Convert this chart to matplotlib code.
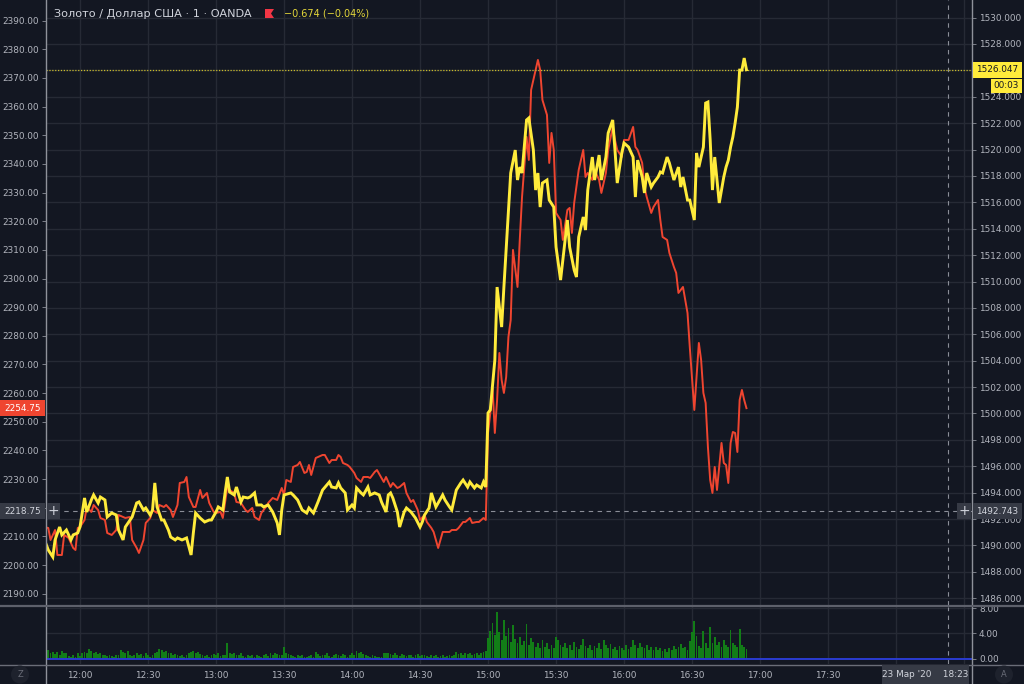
import matplotlib
matplotlib.use('Agg')
import matplotlib.pyplot as plt
from matplotlib.lines import Line2D
from matplotlib.patches import Rectangle, Circle, Polygon
from matplotlib.ticker import FormatStrFormatter, FuncFormatter

# --- data: minutes after 11:44, one-minute chart ---
t0 = 11 * 60 + 44

# yellow line, right scale
gold_t = [0, 2, 4, 5, 7, 8, 10, 12, 13, 15, 16, 18, 19, 21, 22, 24, 25, 27, 28, 30, 32, 33, 35, 36,
          39, 41, 42, 44, 45, 47, 48, 49, 50, 52, 53, 55, 56, 58, 59, 61, 63, 65, 66, 67, 69, 71, 73,
          74, 76, 77, 79, 80, 81, 82, 84, 85, 87, 88, 90, 91, 93, 94, 96, 97, 99, 101,
          103, 104, 105, 106, 109, 110, 112, 114, 116, 117, 119, 121, 123, 126, 127, 129, 130, 131,
          133, 134, 136, 137, 138, 140, 141, 143, 144, 146, 148, 149, 151, 152, 153, 154, 156, 157,
          159, 160, 162, 164, 166, 167, 168, 170, 171, 173, 174, 176, 177, 179, 180, 182, 184, 185,
          187, 188, 190, 191, 193, 194, 195,
          196, 197, 199, 200, 202, 203, 205, 206, 208, 209, 210, 211, 213, 214, 216, 217, 218, 219,
          220, 222, 223, 225, 226, 228, 229, 231, 232, 234, 235, 236, 238, 239, 240, 242, 243, 245,
          246, 248, 249, 251, 252, 253, 255, 256, 258, 260, 261, 262, 264, 265, 266, 268, 269, 271,
          272, 273, 275, 276, 278, 280, 281, 282, 284, 285, 287, 288, 289, 291, 292, 293, 294, 295,
          296, 297, 298, 300, 301, 302, 303, 304, 305, 306, 307, 308, 309, 310]
gold = [1490.57, 1489.66, 1489.13, 1490.42, 1491.40, 1490.80, 1491.17, 1490.42, 1490.80, 1490.95,
        1491.40, 1493.60, 1492.54, 1493.45, 1493.83, 1493.22, 1493.67, 1493.45, 1492.16, 1492.46,
        1492.31, 1491.17, 1490.42, 1491.40, 1492.16, 1493.22, 1493.30, 1492.69, 1492.84, 1492.31,
        1492.69, 1494.74, 1492.92, 1491.93, 1491.93, 1491.17, 1490.64, 1490.42, 1490.57, 1490.42,
        1490.57, 1489.28, 1490.95, 1492.46, 1492.08, 1491.78, 1491.93, 1491.93, 1492.54, 1492.92,
        1492.69, 1493.98, 1495.19, 1494.05, 1493.83, 1494.43, 1493.30, 1493.67, 1493.60, 1493.67,
        1493.98, 1493.07, 1493.07, 1492.92, 1493.07, 1492.54,
        1491.71, 1490.80, 1492.69, 1493.83, 1493.98, 1493.83, 1493.45, 1492.69, 1492.46, 1492.84,
        1492.46, 1493.30, 1494.20, 1494.81, 1494.43, 1494.36, 1494.74, 1494.36, 1493.98, 1492.69,
        1493.07, 1492.84, 1494.36, 1493.98, 1493.83, 1494.43, 1493.83, 1493.98, 1493.83, 1493.30,
        1492.54, 1493.83, 1493.98, 1493.60, 1492.54, 1491.40, 1492.54, 1492.84, 1492.54, 1492.08,
        1491.40, 1491.78, 1492.31, 1492.84, 1493.98, 1492.92, 1493.22, 1493.83, 1493.45, 1492.92,
        1492.69, 1494.20, 1494.74, 1494.96, 1494.43, 1494.81, 1494.36, 1494.58, 1494.36, 1494.81,
        1494.43,
        1500.04, 1500.27, 1504.05, 1509.58, 1506.55, 1509.58, 1515.42, 1518.22, 1519.96, 1517.69,
        1518.67, 1518.22, 1522.24, 1522.39, 1519.96, 1516.93, 1518.22, 1515.64, 1517.46, 1517.69,
        1516.17, 1515.64, 1512.61, 1510.11, 1511.63, 1514.66, 1512.61, 1510.87, 1510.34, 1513.37,
        1514.89, 1513.90, 1516.93, 1519.43, 1517.69, 1519.58, 1517.69, 1519.43, 1521.25, 1522.24,
        1519.96, 1517.46, 1519.74, 1520.49, 1520.19, 1519.43, 1516.40, 1519.20, 1517.92, 1516.71,
        1518.22, 1517.16, 1517.46, 1517.92, 1518.30, 1518.22, 1519.43, 1518.98, 1517.69, 1518.67,
        1517.16, 1517.92, 1516.17, 1516.17, 1514.66, 1519.74, 1518.67, 1520.19, 1523.52, 1523.60,
        1520.72, 1516.93, 1519.43, 1517.69, 1515.95, 1517.92, 1518.67, 1519.20, 1520.19, 1520.95,
        1522.01, 1523.22, 1526.02, 1526.02, 1526.93, 1526.047]

# red line, left scale
idx_t = [0, 2, 3, 5, 6, 8, 9, 11, 12, 13, 14, 15, 16, 18, 19, 21, 22, 24, 25, 27, 28, 30, 32, 33,
         35, 36, 38, 39, 41, 42, 44, 45, 47, 48, 50, 51, 53, 54, 56, 57, 59, 60, 62, 63, 64, 66, 67,
         69, 70, 72, 73, 75, 76, 78, 79, 81, 82, 84, 85, 87, 89, 90, 92, 93, 95, 96, 98, 99, 101,
         103, 105, 106, 107, 109, 110, 112, 113, 115, 116, 117, 118, 120, 121, 123, 124, 126, 127,
         129, 130, 131, 132, 134, 135, 137, 138, 140, 141, 143, 144, 146, 147, 149, 150, 151, 153,
         154, 156, 157, 159, 160, 162, 163, 165, 166, 168, 169, 171, 172, 174, 176, 177, 179, 180,
         182, 183, 185, 186, 188, 189, 191, 192, 194, 195,
         196, 197, 198, 199, 200, 201, 202, 203, 204, 205, 206, 207, 209, 210, 211, 213, 214, 215,
         217, 218, 219, 220, 222, 223, 224, 225, 226, 228, 229, 231, 232, 233, 234, 236, 238, 239,
         240, 242, 243, 245, 246, 248, 249, 251, 252, 253, 255, 256, 258, 260, 261, 262, 264, 265,
         266, 268, 269, 271, 272, 273, 275, 276, 278, 279, 280, 282, 284, 285, 287, 289, 290, 291,
         292, 293, 294, 295, 296, 297, 299, 300, 301, 302, 303, 304, 305, 306, 307, 308, 309, 310]
idx = [2213.28, 2212.93, 2208.74, 2212.23, 2203.50, 2203.50, 2210.49, 2209.44, 2207.70, 2205.95,
       2205.25, 2212.93, 2213.28, 2215.72, 2220.26, 2218.52, 2220.96, 2219.21, 2216.42, 2215.72,
       2211.19, 2210.49, 2212.23, 2217.47, 2216.77, 2216.42, 2216.77, 2208.74, 2205.95, 2204.21,
       2208.74, 2214.68, 2216.42, 2219.21, 2218.17, 2220.96, 2220.26, 2220.96, 2219.21, 2216.77,
       2220.96, 2228.64, 2228.99, 2230.73, 2223.75, 2220.26, 2220.26, 2226.20, 2223.40, 2225.15,
       2221.66, 2218.52, 2218.17, 2218.52, 2216.42, 2227.24, 2226.20, 2225.15, 2222.01, 2221.66,
       2219.21, 2218.52, 2219.91, 2216.77, 2215.72, 2218.17, 2220.26, 2221.66, 2223.40,
       2222.71, 2226.89, 2224.45, 2229.68, 2228.99, 2234.22, 2234.92, 2235.97, 2232.13, 2232.48,
       2234.92, 2231.43, 2237.36, 2237.71, 2238.41, 2238.41, 2235.61, 2236.66, 2236.66, 2238.41,
       2237.71, 2235.61, 2234.92, 2234.22, 2232.13, 2230.38, 2228.99, 2230.73, 2230.73, 2230.38,
       2232.48, 2233.17, 2230.38, 2228.99, 2230.73, 2227.24, 2228.64, 2226.89, 2227.24, 2228.64,
       2225.15, 2222.01, 2222.71, 2219.21, 2215.72, 2217.47, 2215.03, 2212.93, 2211.54, 2205.95,
       2211.54, 2211.54, 2211.54, 2212.23, 2212.23, 2212.93, 2215.03, 2215.03, 2216.42, 2214.68,
       2215.03, 2215.03, 2216.42, 2215.72,
       2246.09, 2253.07, 2261.80, 2246.09, 2257.61, 2274.01, 2264.59, 2260.05, 2265.64, 2279.60,
       2285.53, 2309.97, 2297.05, 2313.46, 2328.46, 2349.41, 2341.38, 2365.81, 2372.79, 2376.28,
       2372.79, 2362.32, 2357.09, 2340.33, 2350.80, 2344.87, 2322.88, 2320.44, 2313.46, 2323.93,
       2324.63, 2315.90, 2326.37, 2337.89, 2344.87, 2335.44, 2336.84, 2334.40, 2337.89, 2334.40,
       2329.86, 2336.84, 2344.87, 2352.90, 2348.36, 2344.87, 2342.42, 2348.36, 2348.36, 2352.90,
       2345.92, 2344.87, 2340.33, 2331.95, 2328.46, 2322.88, 2324.97, 2327.42, 2320.44, 2314.50,
       2313.46, 2308.92, 2304.03, 2301.94, 2294.96, 2297.05, 2287.97, 2276.11, 2254.12, 2277.50,
       2271.57, 2260.05, 2256.56, 2241.20, 2229.68, 2225.15, 2234.22, 2226.20, 2242.60, 2235.61,
       2234.92, 2228.64, 2242.60, 2246.44, 2246.09, 2239.46, 2257.61, 2261.10, 2257.61, 2254.75]

# volume, one bar per minute from 11:44
vol = [1.2, 0.9, 1.3, 0.8, 1.1, 0.7, 1.0, 0.6, 1.2, 0.9,
       0.8, 0.4, 0.3, 0.6, 0.2, 0.9, 0.4, 0.8, 1.1, 0.9,
       1.5, 1.2, 0.9, 1.0, 0.7, 0.8, 0.5, 0.6, 0.4, 0.5,
       0.4, 0.3, 0.5, 0.6, 1.3, 1.0, 0.8, 1.2, 0.5, 0.4,
       0.6, 0.8, 0.5, 0.7, 0.4, 0.9, 0.6, 0.3, 0.5, 0.8,
       1.1, 1.5, 1.3, 1.0, 1.2, 0.9, 0.8, 0.6, 0.7, 0.5,
       0.4, 0.6, 0.3, 0.5, 0.8, 1.0, 1.2, 0.9, 1.1, 0.7,
       0.5, 0.4, 0.6, 0.3, 0.5, 0.7, 0.6, 0.8, 0.4, 0.5,
       0.6, 2.4, 0.9, 0.7, 0.8, 0.6, 0.5, 0.8, 0.4, 0.3,
       0.5, 0.4, 0.6, 0.3, 0.5, 0.4, 0.2, 0.6, 0.7, 0.4,
       0.8, 0.6, 0.9, 0.7, 0.5, 0.6, 1.8, 0.9, 0.7, 0.5,
       0.4, 0.3, 0.5, 0.4, 0.6, 0.3, 0.2, 0.4, 0.5, 0.3,
       1.0, 0.7, 0.4, 0.5, 0.6, 0.8, 0.4, 0.3, 0.6, 0.7,
       0.5, 0.4, 0.7, 0.6, 0.3, 0.5, 0.8, 0.6, 1.2, 0.9,
       1.1, 0.7, 0.5, 0.4, 0.3, 0.5, 0.4, 0.3, 0.2, 0.3,
       0.9, 0.8, 0.9, 0.7, 0.5, 0.8, 0.6, 0.4, 0.7, 0.5,
       0.4, 0.6, 0.5, 0.3, 0.5, 0.7, 0.4, 0.6, 0.5, 0.4,
       0.3, 0.5, 0.4, 0.6, 0.3, 0.4, 0.5, 0.3, 0.4, 0.5,
       0.4, 0.6, 1.0, 0.7, 0.8, 0.6, 0.9, 0.7, 0.8, 0.6,
       0.7, 0.9, 0.6, 0.8, 1.0, 1.2, 3.2, 4.3, 5.6, 3.8,
       7.4, 4.2, 3.0, 6.1, 3.5, 4.8, 2.6, 5.3, 3.1, 2.4,
       3.4, 2.2, 2.8, 5.4, 2.1, 3.2, 2.6, 1.9, 2.4, 1.6,
       3.0, 1.8, 2.4, 1.5, 2.1, 1.6, 3.4, 2.9, 2.2, 1.8,
       2.5, 1.7, 2.2, 1.4, 2.6, 1.9, 1.5, 2.1, 3.1, 2.0,
       1.6, 2.2, 1.4, 2.0, 1.7, 2.4, 1.5, 3.0, 2.1, 1.6,
       2.3, 1.5, 1.9, 1.3, 2.0, 1.6, 1.4, 2.2, 1.5, 1.8,
       2.9, 2.1, 1.7, 2.5, 1.9, 1.6, 2.2, 1.4, 1.8, 1.3,
       1.9, 1.4, 1.7, 1.2, 1.5, 1.0, 1.6, 1.3, 2.0, 1.5,
       1.8, 2.3, 1.6, 1.9, 1.4, 2.7, 4.2, 5.9, 3.6, 2.0,
       1.7, 4.3, 2.5, 1.6, 5.0, 2.4, 3.4, 2.1, 2.6, 1.9,
       3.0, 2.2, 1.8, 4.6, 2.5, 2.1, 1.9, 4.7, 2.2, 1.8, 1.5]
ind_level = 0.0

time_ticks = list(range(12 * 60, 18 * 60 + 31, 30))
time_labels = ['12:00', '12:30', '13:00', '13:30', '14:00', '14:30', '15:00', '15:30',
               '16:00', '16:30', '17:00', '17:30', '', '']
left_ticks = list(range(2190, 2391, 10))
right_ticks = list(range(1486, 1531, 2))
vol_ticks = [0, 4, 8]

last_idx = 2254.75
last_gold = 1526.047
cross_idx = 2218.75
cross_gold = 1492.743
cross_time = 18 * 60 + 23

# --- style ---
BG = '#131722'
GRID = '#262a35'
TXT = '#b2b5be'
LINE = '#7c7f89'
RED = '#ef4530'
YEL = '#ffeb3b'
FS = 6.4
W, H = 1024, 684

plt.rcParams['font.family'] = ['DejaVu Sans']
fig = plt.figure(figsize=(W / 100, H / 100), dpi=100, facecolor=BG)

ax = fig.add_axes([46 / W, 1 - 605 / H, 926 / W, 605 / H], facecolor=BG)
ax2 = ax.twinx()
axv = fig.add_axes([46 / W, 1 - 664 / H, 926 / W, 57 / H], facecolor=BG, sharex=ax)

ax.set_xlim(705.0, 1113.5)
ax.set_ylim(2186.05, 2397.2)
ax2.set_ylim(1485.49, 1531.33)
axv.set_ylim(-0.87, 8.17)

l0, l1 = ax.get_ylim()
r0, r1 = ax2.get_ylim()


def right_to_left(v):
    return l0 + (v - r0) * (l1 - l0) / (r1 - r0)


# grid
for v in right_ticks:
    ax.axhline(right_to_left(v), color=GRID, lw=1, zorder=0.5)
for t in time_ticks:
    ax.axvline(t, color=GRID, lw=1, zorder=0.5)
    axv.axvline(t, color=GRID, lw=1, zorder=0.5)
for v in vol_ticks[1:]:
    axv.axhline(v, color=GRID, lw=1, zorder=0.5)

# crosshair
ax.axhline(cross_idx, color='#8b8e98', lw=0.8, dashes=(4, 4), zorder=1)
ax.axvline(cross_time, color='#8b8e98', lw=0.8, dashes=(4, 4), zorder=1)
axv.axvline(cross_time, color='#8b8e98', lw=0.8, dashes=(4, 4), zorder=1)

# series
ax.plot([t0 + m for m in idx_t], idx, color=RED, lw=1.4, zorder=3)
ax2.plot([t0 + m for m in gold_t], gold, color=YEL, lw=2.1, zorder=3, solid_joinstyle='miter')
ax2.axhline(last_gold, color='#c9bb2a', lw=0.9, ls=(0, (1, 1.3)), zorder=2)

axv.bar([t0 + m for m in range(len(vol))], vol, width=0.8, color='#127d17', zorder=2)
axv.axhline(ind_level, color='#2a3bd1', lw=1.4, zorder=3)


# tick labels hidden behind the scale tags are left empty
def fmt_left(v, pos):
    return '' if abs(v - 2220) < 0.01 else f'{v:.2f}'


def fmt_right(v, pos):
    return '' if abs(v - 1526) < 0.01 else f'{v:.3f}'


for a in (ax, ax2, axv):
    for s in a.spines.values():
        s.set_visible(False)
ax.set_yticks(left_ticks)
ax.yaxis.set_major_formatter(FuncFormatter(fmt_left))
ax.tick_params(axis='y', length=3, width=0.7, color=LINE, labelcolor=TXT, labelsize=FS, pad=2)
ax.tick_params(axis='x', length=0, labelbottom=False)
ax2.set_yticks(right_ticks)
ax2.yaxis.set_major_formatter(FuncFormatter(fmt_right))
ax2.tick_params(axis='y', length=3, width=0.7, color=LINE, labelcolor=TXT, labelsize=FS, pad=2)

axv.set_xticks(time_ticks)
axv.set_xticklabels(time_labels)
axv.tick_params(axis='x', length=0, labelcolor=TXT, labelsize=FS, pad=5)
axv.yaxis.tick_right()
axv.set_yticks(vol_ticks)
axv.yaxis.set_major_formatter(FormatStrFormatter('%.2f'))
axv.tick_params(axis='y', length=3, width=0.7, color=LINE, labelcolor=TXT, labelsize=FS, pad=2)

# frame lines
fig.lines += [
    Line2D([46 / W, 46 / W], [0, 1], color='#8f929b', lw=1.0, transform=fig.transFigure),
    Line2D([972 / W, 972 / W], [0, 1], color='#8f929b', lw=1.0, transform=fig.transFigure),
    Line2D([0, 1], [1 - 605.5 / H] * 2, color='#5d606b', lw=1.6, transform=fig.transFigure),
    Line2D([0, 1], [1 - 664.5 / H] * 2, color='#6a6d78', lw=1.0, transform=fig.transFigure),
]


def box(x0, x1, yc, h, fc):
    fig.patches.append(Rectangle((x0 / W, (yc - h / 2) / H), (x1 - x0) / W, h / H,
                                 transform=fig.transFigure, facecolor=fc, edgecolor='none', zorder=5))


def label(x, yc, s, color, ha='center', size=FS, weight='normal'):
    fig.text(x / W, yc / H, s, color=color, ha=ha, va='center', size=size, weight=weight, zorder=6)


# price tags on the scales
yr = ax.transData.transform((0, last_idx))[1]
box(0, 45, yr, 16, RED)
label(22.5, yr, f'{last_idx:.2f}', 'white')

yg = ax2.transData.transform((0, last_gold))[1]
box(973, 1022, yg, 16, YEL)
label(997.5, yg, f'{last_gold:.3f}', '#131722')
box(991, 1022, yg - 16, 14, YEL)
label(1006.5, yg - 16, '00:03', '#131722')

# crosshair tags
yc = ax.transData.transform((0, cross_idx))[1]
box(0, 45, yc, 16, '#363a45')
label(22.5, yc, f'{cross_idx:.2f}', '#d1d4dc')
box(47, 60, yc, 16, '#363a45')
label(53.5, yc + 0.5, '+', '#d1d4dc', size=10)
box(973, 1022, yc, 16, '#363a45')
label(997.5, yc, f'{cross_gold:.3f}', '#d1d4dc')
box(957, 971, yc, 16, '#363a45')
label(964, yc + 0.5, '+', '#d1d4dc', size=10)

box(882, 969, 9.5, 19, '#363a45')
label(925.5, 9.5, "23 Мар '20    18:23", '#d1d4dc')

# corner buttons
for cx, ch in ((20, 'Z'), (1004, 'A')):
    fig.patches.append(Circle((cx / 100, 9.5 / 100), 0.09, transform=fig.dpi_scale_trans,
                              facecolor='#1e222d', edgecolor='none', zorder=5))
    label(cx, 9.5, ch, '#6a6d78', size=6)

# header
label(54, H - 14, 'Золото / Доллар США · 1 · OANDA', '#d1d4dc', ha='left', size=8.1)
fig.patches.append(Polygon([(265 / W, 1 - 9 / H), (274 / W, 1 - 9 / H), (271 / W, 1 - 13.5 / H),
                            (274 / W, 1 - 18 / H), (265 / W, 1 - 18 / H)],
                           closed=True, transform=fig.transFigure, facecolor='#f23645',
                           edgecolor='none', zorder=5))
label(284, H - 14, '−0.674 (−0.04%)', '#e3d63a', ha='left', size=7)

fig.savefig('out.png', dpi=100, facecolor=BG)
